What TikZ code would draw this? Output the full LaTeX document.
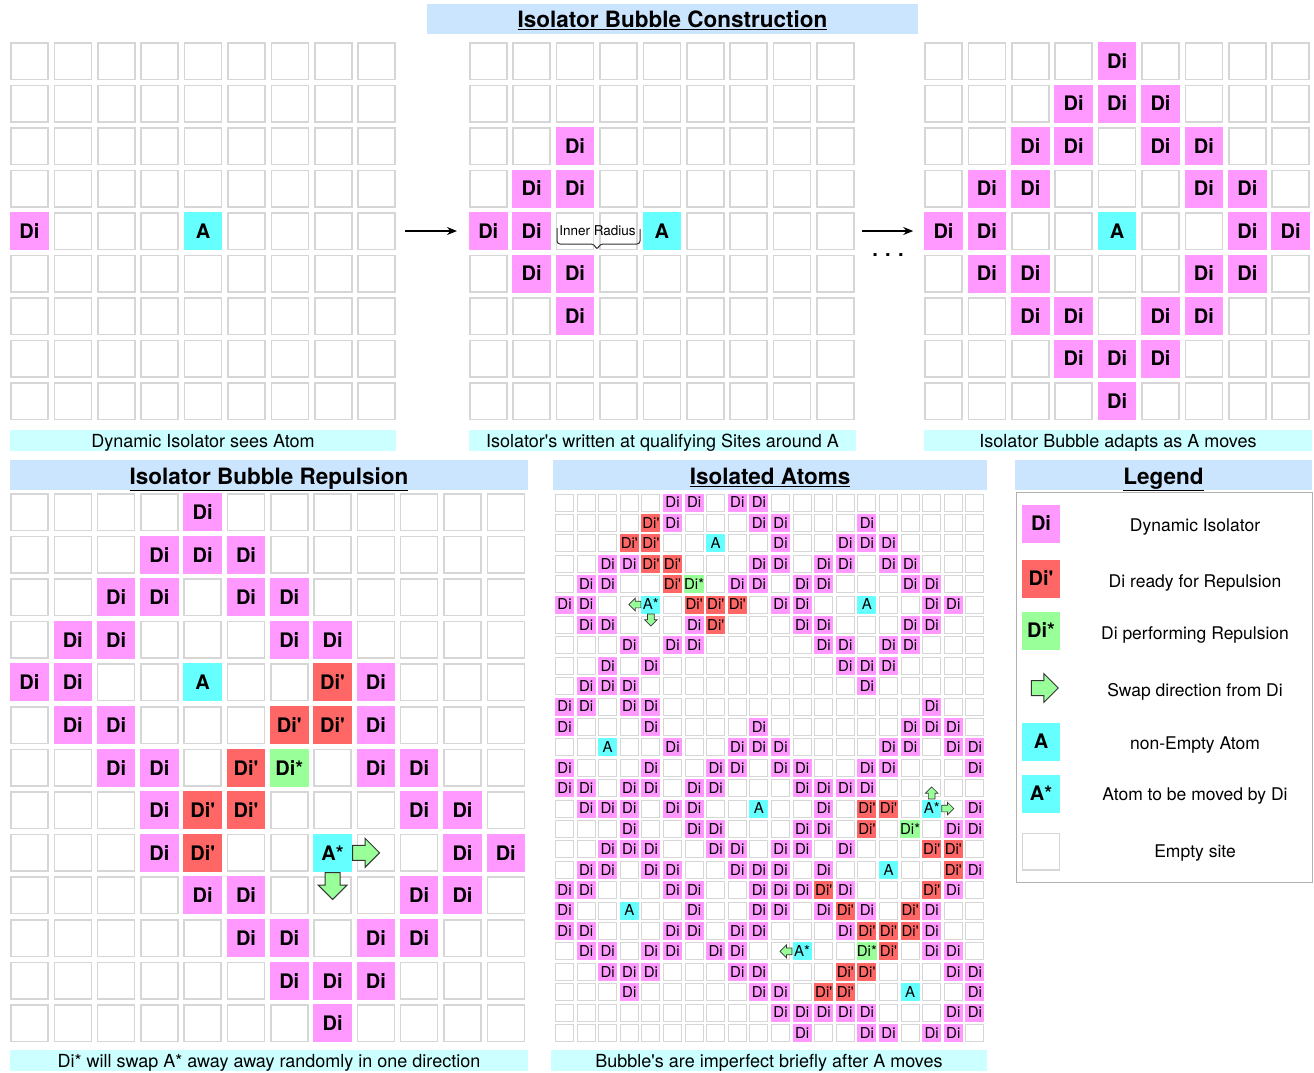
\documentclass[tikz,border=0pt]{standalone}
\usepackage{fontspec}
\setmainfont{TeX Gyre Heros}
\usepackage{tikz}
\usetikzlibrary{arrows.meta,positioning,shapes.arrows}
\definecolor{DiPink}{HTML}{FF99FF}
\definecolor{DiRed}{HTML}{FF6666}
\definecolor{DiGreen}{HTML}{99FF99}
\definecolor{AtomCyan}{HTML}{66FFFF}
\definecolor{TitleBlue}{HTML}{CCE5FF}
\definecolor{CaptionCyan}{HTML}{CCFFFF}
\definecolor{SiteGray}{HTML}{D6D6D6}

\begin{document}
\begin{tikzpicture}[x=1pt,y=-1pt,
  site/.style={draw=SiteGray,line width=1.5pt,fill=white,minimum width=37pt,minimum height=36.5pt,inner sep=0pt},
  cell/.style={minimum width=38.5pt,minimum height=38pt,inner sep=0pt,font=\fontsize{20}{24}\selectfont\bfseries},
  tinysite/.style={draw=SiteGray,line width=1pt,fill=white,minimum width=18pt,minimum height=17pt,inner sep=0pt},
  tinycell/.style={minimum width=19pt,minimum height=18pt,inner sep=0pt,font=\fontsize{15}{18}\selectfont},
  isol/.style={fill=DiPink}, ready/.style={fill=DiRed}, active/.style={fill=DiGreen}, atom/.style={fill=AtomCyan},
  titlebar/.style={fill=TitleBlue,minimum height=30pt,inner sep=0pt,text height=18.5pt,text depth=0pt,font=\fontsize{22.5}{27}\selectfont\bfseries},
  capbar/.style={fill=CaptionCyan,minimum height=21pt,inner sep=0pt,text height=15pt,text depth=2pt,font=\fontsize{18}{21}\selectfont},
  swap/.style={single arrow,draw=black!80,fill=DiGreen,line width=1pt,inner sep=7pt,single arrow head extend=7pt,minimum height=27pt},
  tinyswap/.style={swap,line width=0.7pt,inner sep=3pt,single arrow head extend=3pt,minimum height=12pt},
  flow/.style={-{Stealth[length=10pt,width=8pt]},line width=1.3pt},
  legtext/.style={inner sep=0pt,text height=12.6pt,text depth=0pt,font=\fontsize{17.5}{21}\selectfont}]
  \useasboundingbox (0,0) rectangle (1314,1072);

  % Isolator Bubble Construction
  \node[titlebar,minimum width=491pt] (buildtitle) at (672.5,18.5) {\underline{Isolator Bubble Construction}};
  \foreach \g/\x in {ga/29.5,gb/488.25,gc/943.5}
    \foreach \r in {0,...,8}
      \foreach \c in {0,...,8}
        \node[site] (\g-\r-\c) at (\x+43.4*\c,61+42.5*\r) {};
  \foreach \g/\r/\c in {ga/4/0,
      gb/2/2,gb/3/1,gb/3/2,gb/4/0,gb/4/1,gb/5/1,gb/5/2,gb/6/2,
      gc/0/4,gc/1/3,gc/1/4,gc/1/5,gc/2/2,gc/2/3,gc/2/5,gc/2/6,gc/3/1,gc/3/2,gc/3/6,gc/3/7,
      gc/4/0,gc/4/1,gc/4/7,gc/4/8,gc/5/1,gc/5/2,gc/5/6,gc/5/7,gc/6/2,gc/6/3,gc/6/5,gc/6/6,
      gc/7/3,gc/7/4,gc/7/5,gc/8/4}
    \node[cell,isol] (\g-\r-\c-on) at (\g-\r-\c) {Di};
  \foreach \g in {ga,gb,gc}
    \node[cell,atom] (\g-4-4-on) at (\g-4-4) {A};
  \node[font=\fontsize{13.5}{16}\selectfont,inner sep=0pt] (inner) at (597.5,231) {Inner Radius};
  \draw[line width=1pt,black!80,rounded corners=3pt] (557,228) -- (557,244) -- (594,244) -- (597,250) -- (600,244) -- (640,244) -- (640,229);
  \draw[flow] ([xshift=9pt]ga-4-8.east) -- ([xshift=-12pt]gb-4-0.west);
  \draw[flow] ([xshift=7.5pt]gb-4-8.east) -- ([xshift=-11pt]gc-4-0.west);
  \node[font=\fontsize{20}{24}\selectfont\bfseries,inner sep=0pt] (more) at (888,255) {. . .};
  \node[capbar,minimum width=386pt] (capa) at (203,440.5) {Dynamic Isolator sees Atom};
  \node[capbar,minimum width=387pt] (capb) at (662.5,440.5) {Isolator\textquotesingle s written at qualifying Sites around A};
  \node[capbar,minimum width=388pt] (capc) at (1118,440.5) {Isolator Bubble adapts as A moves};

  % Isolator Bubble Repulsion
  \node[titlebar,minimum width=518pt] (pushtitle) at (269,475) {\underline{Isolator Bubble Repulsion}};
  \foreach \r in {0,...,12}
    \foreach \c in {0,...,11}
      \node[site] (rg-\r-\c) at (29.5+43.3*\c,512+42.6*\r) {};
  \foreach \r/\c in {0/4,1/3,1/4,1/5,2/2,2/3,2/5,2/6,3/1,3/2,3/6,3/7,4/0,4/1,4/8,5/1,5/2,5/8,
      6/2,6/3,6/8,6/9,7/3,7/9,7/10,8/3,8/10,8/11,9/4,9/5,9/9,9/10,10/5,10/6,10/8,10/9,
      11/6,11/7,11/8,12/7}
    \node[cell,isol] (rg-\r-\c-on) at (rg-\r-\c) {Di};
  \foreach \r/\c in {4/7,5/6,5/7,6/5,7/4,7/5,8/4}
    \node[cell,ready] (rg-\r-\c-on) at (rg-\r-\c) {Di\textquotesingle};
  \node[cell,active] (rg-6-6-on) at (rg-6-6) {Di*};
  \node[cell,atom] (rg-4-4-on) at (rg-4-4) {A};
  \node[cell,atom] (rg-8-7-on) at (rg-8-7) {A*};
  \node[swap,anchor=tail] (rg-go-e) at (rg-8-7-on.east) {};
  \node[swap,shape border rotate=270,anchor=tail] (rg-go-s) at (rg-8-7-on.south) {};
  \node[capbar,minimum width=518pt] (capd) at (269,1060.5) {Di* will swap A* away away randomly in one direction};

  % Isolated Atoms
  \node[titlebar,minimum width=434pt] (atomtitle) at (770,475) {\underline{Isolated Atoms}};
  \foreach \r in {0,...,26}
    \foreach \c in {0,...,19}
      \node[tinysite] (sg-\r-\c) at (564.5+21.6*\c,502.5+20.4*\r) {};
  \foreach \r/\c in {0/5,0/6,0/8,0/9,1/5,1/9,1/10,1/14,2/10,2/13,2/14,2/15,
      3/2,3/3,3/9,3/10,3/12,3/13,3/15,3/16,4/1,4/2,4/8,4/9,4/11,4/12,4/16,4/17,
      5/0,5/1,5/10,5/11,5/17,5/18,6/1,6/2,6/6,6/11,6/12,6/16,6/17,
      7/3,7/5,7/6,7/12,7/13,7/15,7/16,8/2,8/4,8/13,8/14,8/15,9/1,9/2,9/3,9/14,
      10/0,10/1,10/3,10/4,10/17,11/0,11/4,11/9,11/16,11/17,11/18,
      12/5,12/8,12/9,12/10,12/15,12/16,12/18,12/19,13/0,13/4,13/7,13/8,13/10,13/11,13/14,13/15,13/19,
      14/0,14/1,14/3,14/4,14/6,14/7,14/11,14/12,14/13,14/14,15/1,15/2,15/3,15/5,15/6,15/12,15/19,
      16/3,16/6,16/7,16/11,16/12,16/18,16/19,17/2,17/3,17/4,17/7,17/8,17/10,17/11,17/13,
      18/1,18/2,18/4,18/5,18/8,18/9,18/10,18/12,18/19,19/0,19/1,19/5,19/6,19/9,19/10,19/11,19/13,19/18,
      20/0,20/6,20/9,20/10,20/12,20/14,20/17,21/0,21/1,21/5,21/6,21/8,21/9,21/13,21/17,
      22/1,22/2,22/4,22/5,22/7,22/8,22/17,22/18,23/2,23/3,23/4,23/8,23/9,23/18,23/19,
      24/3,24/9,24/10,24/19,25/10,25/11,25/12,25/13,25/14,25/18,25/19,26/11,26/14,26/15,26/17,26/18}
    \node[tinycell,isol] (sg-\r-\c-on) at (sg-\r-\c) {Di};
  \foreach \r/\c in {1/4,2/3,2/4,3/4,3/5,4/5,5/6,5/7,5/8,6/7,15/14,15/15,16/14,17/17,17/18,18/18,
      19/12,19/17,20/13,20/16,21/14,21/15,21/16,22/15,23/13,23/14,24/12,24/13}
    \node[tinycell,ready] (sg-\r-\c-on) at (sg-\r-\c) {Di\textquotesingle};
  \foreach \r/\c in {4/6,16/16,22/14}
    \node[tinycell,active] (sg-\r-\c-on) at (sg-\r-\c) {Di*};
  \foreach \r/\c in {2/7,5/14,12/2,15/9,18/15,20/3,24/16}
    \node[tinycell,atom] (sg-\r-\c-on) at (sg-\r-\c) {A};
  \foreach \r/\c in {5/4,15/17,22/11}
    \node[tinycell,atom] (sg-\r-\c-on) at (sg-\r-\c) {A*};
  \node[tinyswap,shape border rotate=180,anchor=tail] (sg-go-a) at (sg-5-4-on.west) {};
  \node[tinyswap,shape border rotate=270,anchor=tail] (sg-go-b) at (sg-5-4-on.south) {};
  \node[tinyswap,shape border rotate=90,anchor=tail] (sg-go-c) at (sg-15-17-on.north) {};
  \node[tinyswap,anchor=tail] (sg-go-d) at (sg-15-17-on.east) {};
  \node[tinyswap,shape border rotate=180,anchor=tail] (sg-go-e) at (sg-22-11-on.west) {};
  \node[capbar,minimum width=436pt] (cape) at (769,1060.5) {Bubble\textquotesingle s are imperfect briefly after A moves};

  % Legend
  \node[titlebar,minimum width=297pt] (legtitle) at (1163.5,475) {\underline{Legend}};
  \node[draw=black!30,line width=1pt,minimum width=296pt,minimum height=390pt] (legbox) at (1164,687) {};
  \node[cell,isol] (leg-di) at (1041,523.5) {Di};
  \node[cell,ready] (leg-dr) at (1041,578.5) {Di\textquotesingle};
  \node[cell,active] (leg-da) at (1041,630.5) {Di*};
  \node[swap] (leg-sw) at (1041,688) {};
  \node[cell,atom] (leg-a) at (1041,741.5) {A};
  \node[cell,atom] (leg-as) at (1041,793.5) {A*};
  \node[site] (leg-e) at (1041,851.5) {};
  \foreach \y/\desc [count=\i] in {525/Dynamic Isolator,581/Di ready for Repulsion,633/Di performing Repulsion,
      690/Swap direction from Di,743/non-Empty Atom,794/Atom to be moved by Di,851/Empty site}
    \node[legtext] (leg-t\i) at (1195,\y) {\desc};
\end{tikzpicture}
\end{document}
